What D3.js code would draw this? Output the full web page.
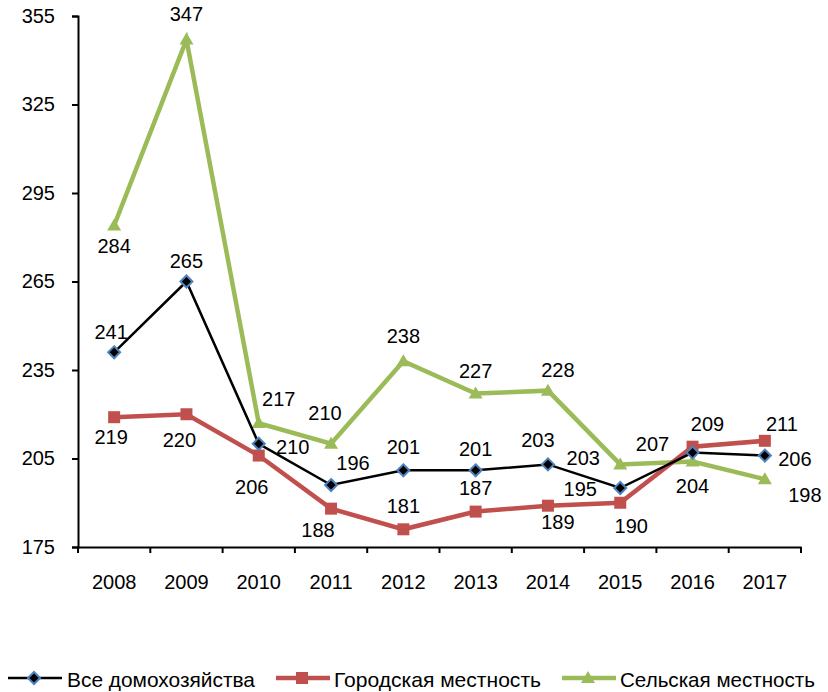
<!DOCTYPE html>
<html>
<head>
<meta charset="utf-8">
<script src="https://cdn.jsdelivr.net/npm/d3@7/dist/d3.min.js"></script>
<style>
  body { margin: 0; background: #fff; }
  svg text { font-family: Arial, "Liberation Sans", sans-serif; fill: #000; }
</style>
</head>
<body>
<div id="chart"></div>
<script>
// data
const years = ["2008", "2009", "2010", "2011", "2012", "2013", "2014", "2015", "2016", "2017"]
const allHouseholds = [241, 265, 210, 196, 201, 201, 203, 195, 207, 206]
const urban = [219, 220, 206, 188, 181, 187, 189, 190, 209, 211]
const rural = [284, 347, 217, 210, 238, 227, 228, 203, 204, 198]
const yTicks = [175, 205, 235, 265, 295, 325, 355]

// label placement (offset from the point, px)
const allOffsets = [[-3, -20], [0, -21], [34, 3], [22, -22], [0, -23], [0, -21], [-10, -24], [-40, 1], [-40, -9], [30, 3]]
const urbanOffsets = [[-3, 20], [-7, 26], [-7, 31], [-13, 21], [0, -23], [0, -24], [10, 16], [11, 23], [15, -23], [17, -17]]
const ruralOffsets = [[0, 21], [0, -26], [20, -24], [-6, -31], [0, -25], [0, -23], [10, -21], [-37, -6], [0, 25], [40, 16]]

const width = 828
const height = 692
const margin = {top: 16, right: 27, bottom: 145, left: 78}
const fontSize = "20px"

const svg = d3.select("#chart").append("svg")
  .attr("width", width)
  .attr("height", height)

const x = d3.scaleBand()
  .domain(years)
  .range([margin.left, width - margin.right])

const y = d3.scaleLinear()
  .domain([175, 355])
  .range([height - margin.bottom, margin.top])

const series = [
  {name: "Все домохозяйства", values: allHouseholds, offsets: allOffsets, color: "#000", width: 2.5, marker: "diamond"},
  {name: "Городская местность", values: urban, offsets: urbanOffsets, color: "#C0504D", width: 4.5, marker: "square"},
  {name: "Сельская местность", values: rural, offsets: ruralOffsets, color: "#9BBB59", width: 4.5, marker: "triangle"}
]

// axes
const yAxis = svg.append("g")
  .attr("transform", `translate(${margin.left},0)`)
  .call(d3.axisLeft(y).tickValues(yTicks).tickSize(6).tickPadding(17))
yAxis.select(".domain").attr("stroke-width", 2)
yAxis.selectAll(".tick line").attr("stroke-width", 2)
yAxis.selectAll(".tick text").style("font-size", fontSize)

const xAxis = svg.append("g")
  .attr("transform", `translate(0,${height - margin.bottom})`)
  .call(d3.axisBottom(x).tickSize(0).tickPadding(28))
xAxis.select(".domain").attr("stroke-width", 2)
xAxis.selectAll(".tick text").style("font-size", fontSize)

// tick marks between categories
const bounds = years.map(d => x(d)).concat([x(years[years.length - 1]) + x.bandwidth()])
xAxis.selectAll(".sep")
  .data(bounds)
  .join("line")
  .attr("class", "sep")
  .attr("x1", d => d)
  .attr("x2", d => d)
  .attr("y1", 0)
  .attr("y2", 6)
  .attr("stroke", "#000")
  .attr("stroke-width", 2)

const cx = d => x(d) + x.bandwidth() / 2

const line = d3.line()
  .x((d, i) => cx(years[i]))
  .y(d => y(d))

function drawMarker (g, type, color) {
  if (type === "diamond") {
    g.append("path")
      .attr("d", "M0,-6L6,0L0,6L-6,0Z")
      .attr("fill", "#000")
      .attr("stroke", "#4F81BD")
      .attr("stroke-width", 2)
  } else if (type === "square") {
    g.append("rect")
      .attr("x", -6).attr("y", -6)
      .attr("width", 12).attr("height", 12)
      .attr("fill", color)
  } else {
    g.append("path")
      .attr("d", "M0,-7L7,5L-7,5Z")
      .attr("fill", color)
  }
}

// draw in order: rural under urban under all households
const drawOrder = [series[2], series[1], series[0]]
drawOrder.forEach(s => {
  svg.append("path")
    .datum(s.values)
    .attr("fill", "none")
    .attr("stroke", s.color)
    .attr("stroke-width", s.width)
    .attr("stroke-linejoin", "miter")
    .attr("d", line)

  svg.append("g")
    .selectAll("g")
    .data(s.values)
    .join("g")
    .attr("transform", (d, i) => `translate(${cx(years[i])},${y(d)})`)
    .each(function (d) { drawMarker(d3.select(this), s.marker, s.color) })
})

// data labels
series.forEach(s => {
  svg.append("g")
    .selectAll("text")
    .data(s.values)
    .join("text")
    .attr("x", (d, i) => cx(years[i]) + s.offsets[i][0])
    .attr("y", (d, i) => y(d) + s.offsets[i][1])
    .attr("text-anchor", "middle")
    .attr("dominant-baseline", "central")
    .style("font-size", fontSize)
    .text(d => d)
})

// legend
const legendY = 678
const legendItems = [
  {s: series[0], x0: 8, tx: 67, tw: 188},
  {s: series[1], x0: 276, tx: 334, tw: 207},
  {s: series[2], x0: 562, tx: 620, tw: 195}
]
const legend = svg.append("g")
legendItems.forEach(item => {
  const g = legend.append("g")
  g.append("line")
    .attr("x1", item.x0).attr("x2", item.x0 + 54)
    .attr("y1", legendY).attr("y2", legendY)
    .attr("stroke", item.s.color)
    .attr("stroke-width", item.s.width)
  const m = g.append("g").attr("transform", `translate(${item.x0 + 26},${legendY})`)
  drawMarker(m, item.s.marker, item.s.color)
  g.append("text")
    .attr("x", item.tx)
    .attr("y", legendY + 1)
    .attr("dominant-baseline", "central")
    .attr("textLength", item.tw)
    .attr("lengthAdjust", "spacingAndGlyphs")
    .style("font-size", "21px")
    .text(item.s.name)
})
</script>
</body>
</html>
